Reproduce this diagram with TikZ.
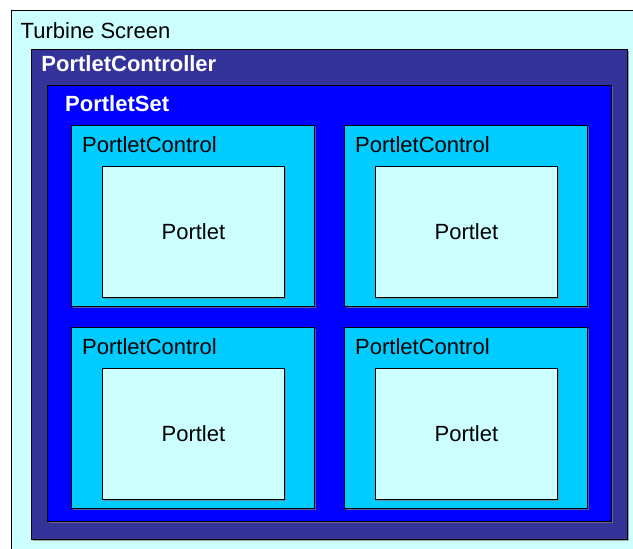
\documentclass[tikz,border=0pt]{standalone}
\usepackage{fontspec}
\setmainfont{Liberation Sans}
\usetikzlibrary{positioning, shadows}
\definecolor{screencyan}{RGB}{204,255,255}
\definecolor{controllerblue}{RGB}{51,51,153}
\definecolor{setblue}{RGB}{0,0,255}
\definecolor{controlcyan}{RGB}{0,204,255}

\tikzset{
  box/.style={draw=black, line width=0.8pt, rectangle, inner sep=0pt, anchor=north west,
    font=\fontsize{22}{26}\selectfont,
    drop shadow={shadow xshift=1.2pt, shadow yshift=-1.2pt, fill=gray, opacity=0.7}},
  title/.style={anchor=base west, inner sep=0pt, font=\fontsize{22}{26}\selectfont},
}

\begin{document}
\begin{tikzpicture}[x=1pt, y=-1pt]
\useasboundingbox (0,0) rectangle (633,549);
\clip (0,0) rectangle (633,549);
% nested containers
\node[box, fill=screencyan, minimum width=640pt, minimum height=560pt] (screen) at (11,10) {};
\node[title] (screenlabel) at (20.5,38.3) {Turbine Screen};
\node[box, fill=controllerblue, minimum width=596pt, minimum height=490pt] (controller) at (31,49) {};
\node[title, white, font=\fontsize{22}{26}\selectfont\bfseries] (controllerlabel) at (41.3,71.7) {PortletController};
\node[box, fill=setblue, minimum width=564pt, minimum height=436pt] (set) at (47,85) {};
\node[title, white, font=\fontsize{22}{26}\selectfont\bfseries] (setlabel) at (65,111) {PortletSet};
% the four controls
\foreach \cx/\cy/\n in {71/125/1, 344/125/2, 71/327/3, 344/327/4}
{
    \node[box, fill=controlcyan, minimum width=243pt, minimum height=181pt] (control\n) at (\cx,\cy) {};
    \node[title] (controllabel\n) at (\cx+11,\cy+27.3) {PortletControl};
    \node[box, fill=screencyan, minimum width=182pt, minimum height=131pt] (portlet\n) at (\cx+31,\cy+41) {Portlet};
}
\end{tikzpicture}
\end{document}
